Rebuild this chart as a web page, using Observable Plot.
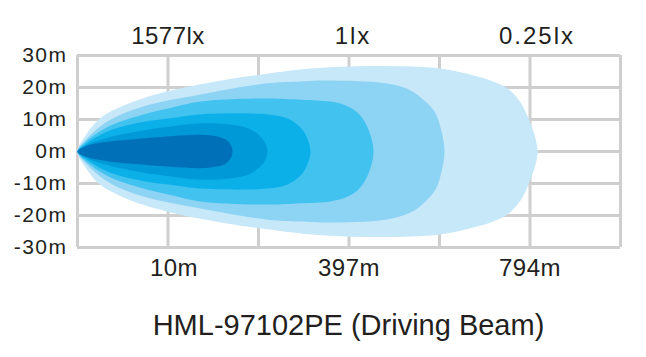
<!DOCTYPE html>
<html><head><meta charset="utf-8">
<script src="https://cdn.jsdelivr.net/npm/d3@7"></script>
<script src="https://cdn.jsdelivr.net/npm/@observablehq/plot@0.6"></script>
<style>
body{margin:0;background:#fff;font-family:"Liberation Sans",Arial,sans-serif;}
#wrap{position:relative;width:646px;height:357px;overflow:hidden;}
#title{position:absolute;left:77px;width:543px;top:308px;text-align:center;font-size:29px;line-height:34px;color:#231f20;white-space:nowrap;}
</style></head><body>
<div id="wrap"><div id="chart"></div><div id="title">HML-97102PE (Driving Beam)</div></div>
<script>
// Axis labels
const distanceLabels = ["10m", "397m", "794m"];
const luxLabels = ["1577lx", "1lx", "0.25lx"];
const labelColumns = [1, 3, 5];
const gridColumns = [0, 1, 2, 3, 4, 5, 6];
const widthTicks = [-30, -20, -10, 0, 10, 20, 30];

// Beam contours: distance (grid columns) and half-width (m), outermost first
const layerColors = ["#c6e8f8", "#8dd3f4", "#42c2ef", "#0bb0e9", "#0099d8", "#0070b9"];
const l1X = [0, 0.088, 0.254, 0.497, 0.718, 0.994, 1.359, 1.724, 2.022, 2.464, 2.796, 3.348, 4.011, 4.376, 4.564, 4.751, 4.895, 4.983, 5.061, 5.083];
const l1H = [0, 5, 10.5, 14.2, 16.6, 18.8, 21, 22.8, 24, 25.6, 26.3, 26.7, 25.9, 23.75, 22.2, 19.7, 15.3, 10.3, 4.1, 0];
const l2X = [0, 0.088, 0.343, 0.718, 1.359, 2.099, 2.464, 2.740, 3.403, 3.680, 3.845, 3.956, 4.022, 4.055];
const l2H = [0, 3.6, 9.6, 14, 17.8, 21.3, 21.9, 22.2, 21.3, 19.1, 15.6, 11.9, 6.3, 0];
const l3X = [0, 0.088, 0.343, 0.718, 1.028, 1.359, 2.099, 2.464, 2.796, 2.961, 3.105, 3.215, 3.271];
const l3H = [0, 3, 7.8, 11.5, 13.6, 15.6, 16.6, 16.2, 15.6, 14.4, 11.9, 6.9, 0];
const l4X = [0, 0.088, 0.343, 0.718, 1.028, 1.359, 2.099, 2.320, 2.464, 2.530, 2.575];
const l4H = [0, 2.3, 6.4, 9.2, 10.4, 11.6, 11.6, 10.3, 7.5, 4.7, 0];
const l5X = [0, 0.088, 0.343, 0.718, 1.028, 1.359, 1.691, 1.890, 2.022, 2.077, 2.099];
const l5H = [0, 1.9, 4.4, 6.6, 7.8, 8.8, 8.4, 7.2, 4.7, 2.5, 0];
const l6X = [0, 0.088, 0.343, 0.718, 1.028, 1.359, 1.525, 1.635, 1.691, 1.713];
const l6H = [0, 1.6, 3.1, 4.1, 4.8, 5.2, 4.8, 3.8, 2.2, 0];

const layers = [[l1X, l1H], [l2X, l2H], [l3X, l3H], [l4X, l4H], [l5X, l5H], [l6X, l6H]];

function outline(xs, hs) {
  const pts = xs.map((x, i) => ({x, y: hs[i]}));
  for (let i = xs.length - 2; i >= 1; i--) pts.push({x: xs[i], y: -hs[i]});
  return pts;
}

const ink = "#231f20";
const gridColor = "#cfcfcf";

const chart = Plot.plot({
  width: 646,
  height: 295,
  marginLeft: 77,
  marginRight: 26,
  marginTop: 55,
  marginBottom: 48,
  style: {fontFamily: '"Liberation Sans", Arial, sans-serif', color: ink, background: "#fff"},
  x: {domain: [0, 6], axis: null},
  y: {domain: [-30, 30], axis: null},
  marks: [
    Plot.ruleX(gridColumns, {stroke: gridColor, strokeWidth: 3}),
    Plot.ruleY(widthTicks, {stroke: gridColor, strokeWidth: 3}),
    ...layers.map(([xs, hs], i) => Plot.line(outline(xs, hs), {
      x: "x", y: "y", fill: layerColors[i], stroke: "none", curve: "catmull-rom-closed"
    })),
    Plot.axisY(widthTicks, {anchor: "left", label: null, tickSize: 0, tickPadding: 10, fontSize: 21,
      tickFormat: d => d + "m", fill: ink}),
    Plot.axisX(labelColumns, {anchor: "bottom", label: null, tickSize: 0, tickPadding: 11, fontSize: 24,
      tickFormat: d => distanceLabels[labelColumns.indexOf(d)], fill: ink}),
    Plot.axisX(labelColumns, {anchor: "top", label: null, tickSize: 0, tickPadding: 12, fontSize: 24,
      tickFormat: d => luxLabels[labelColumns.indexOf(d)], fill: ink})
  ]
});
const svg = d3.select(chart);
svg.selectAll('g[aria-label="y-axis tick label"] text').style("letter-spacing", "1.5px");
const xTexts = svg.selectAll('g[aria-label="x-axis tick label"] text');
xTexts.style("letter-spacing", "0.5px");
xTexts.each(function() {
  const t = this.textContent;
  const li = luxLabels.indexOf(t), di = distanceLabels.indexOf(t);
  if (li > 0) d3.select(this).style("letter-spacing", "2px").attr("dx", li === 1 ? 4 : 7);
  if (di === 0) d3.select(this).attr("dx", 6);
});
document.getElementById("chart").appendChild(chart);
</script>
</body></html>
